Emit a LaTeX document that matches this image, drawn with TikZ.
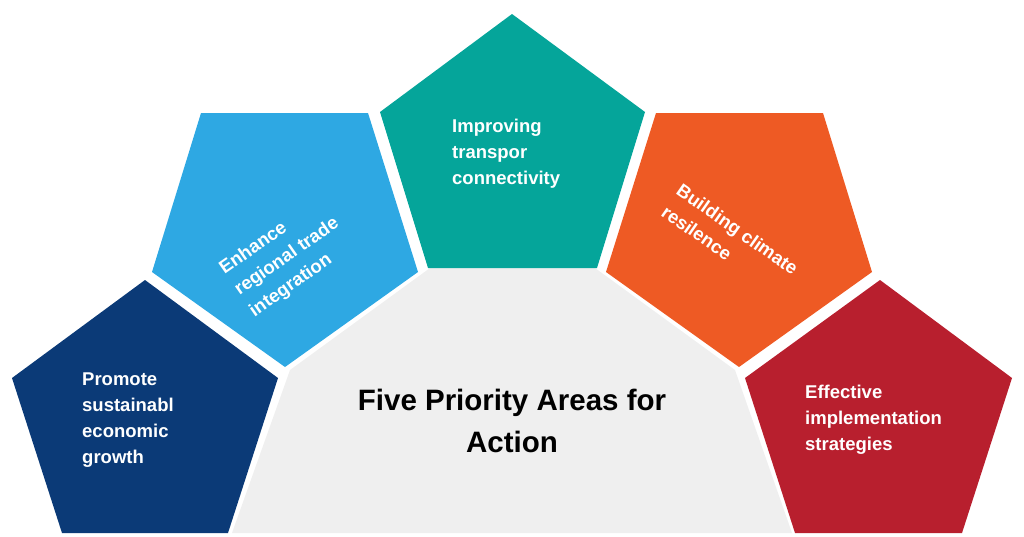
\documentclass[tikz,border=0pt]{standalone}
\usepackage{fontspec}
\setmainfont{Liberation Sans}
\definecolor{cdb}{HTML}{0B3A77}
\definecolor{clb}{HTML}{2EA8E3}
\definecolor{cte}{HTML}{05A59A}
\definecolor{cor}{HTML}{EE5A24}
\definecolor{cre}{HTML}{B81F2E}
\definecolor{cgr}{HTML}{EFEFEF}
\begin{document}
\begin{tikzpicture}[x=1pt,y=-1pt,
  lab/.style={text=white,font=\bfseries\fontsize{18.5}{26}\selectfont,align=left,inner sep=0pt}]
\useasboundingbox (0,0) rectangle (1024,536);
\fill[cgr] (232,533) -- (290,370) -- (430,268) -- (595,268) -- (735,370) -- (792,533) -- cycle;
\fill[cdb] (145,280) -- (278,378) -- (228,533) -- (62,533) -- (12,378) -- cycle;
\fill[clb] (201,113) -- (368,113) -- (418,272) -- (285,367) -- (152,272) -- cycle;
\fill[cte] (512,14) -- (645,112) -- (597,268) -- (428,268) -- (380,112) -- cycle;
\fill[cor] (656,113) -- (823,113) -- (872,272) -- (739,367) -- (606,272) -- cycle;
\fill[cre] (880,280) -- (1012,378) -- (962,533) -- (795,533) -- (745,378) -- cycle;
\node[lab,anchor=west] (p1) at (82,420) {Promote\\sustainabl\\economic\\growth};
\node[lab,rotate=35] (p2) at (287,257) {Enhance\\regional trade\\integration};
\node[lab,anchor=west] (p3) at (452,154) {Improving\\transpor\\connectivity};
\node[lab,rotate=-35] (p4) at (730,240) {Building climate\\resilence};
\node[lab,anchor=west] (p5) at (805,420) {Effective\\implementation\\strategies};
\node[font=\bfseries\fontsize{29.5}{42}\selectfont,align=center] (t) at (512,421) {Five Priority Areas for\\Action};
\end{tikzpicture}
\end{document}
